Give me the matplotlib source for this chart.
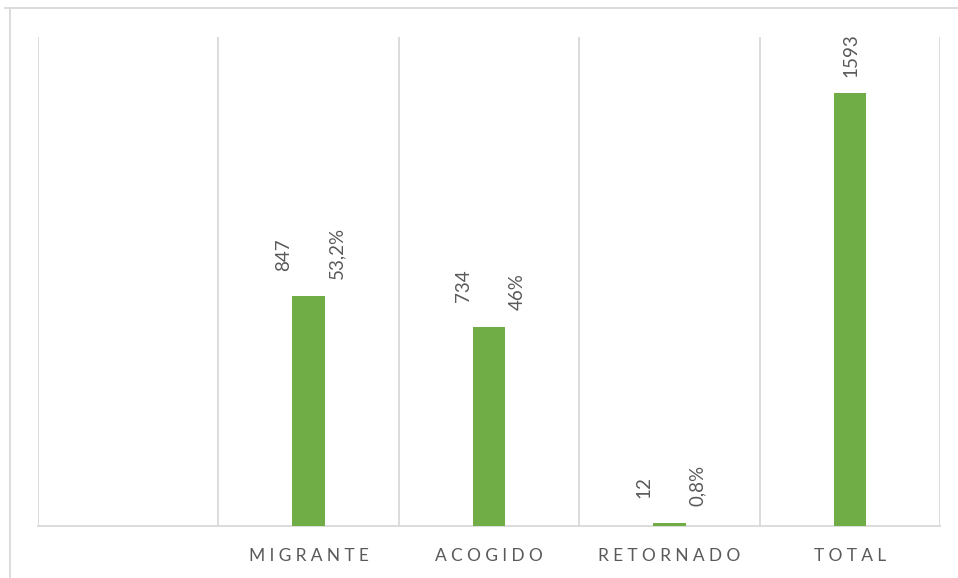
import matplotlib
matplotlib.use("Agg")
from matplotlib import pyplot as plt
from matplotlib.lines import Line2D

# datos
categorias = ["", "MIGRANTE", "ACOGIDO", "RETORNADO", "TOTAL"]
cantidades = [None, 847, 734, 12, 1593]
porcentajes = [None, "53,2%", "46%", "0,8%", None]

verde = "#70AD47"
gris_linea = "#D9D9D9"
gris_texto = "#595959"

plt.rcParams["font.family"] = ["Lato", "DejaVu Sans"]

fig = plt.figure(figsize=(9.58, 5.78), dpi=100)
W, H = 958, 578
ax = fig.add_axes([38 / W, (H - 526) / H, (940 - 38) / W, (526 - 37) / H])

pos = list(range(len(categorias)))
for i, v in enumerate(cantidades):
    if v is None:
        continue
    ax.bar(i, v, width=0.18, color=verde, zorder=3)
    if porcentajes[i] is None:
        # etiqueta centrada (total)
        ax.annotate(str(v), (i, v), xytext=(1, 12), textcoords="offset points",
                    rotation=90, ha="center", va="bottom", fontsize=13.5, color=gris_texto)
    else:
        ax.annotate(str(v), (i, v), xytext=(-18, 18), textcoords="offset points",
                    rotation=90, ha="center", va="bottom", fontsize=13.5, color=gris_texto)
        ax.annotate(porcentajes[i], (i, v), xytext=(20, 12), textcoords="offset points",
                    rotation=90, ha="center", va="bottom", fontsize=13.5, color=gris_texto)

ax.set_xlim(-0.5, len(categorias) - 0.5)
ax.set_ylim(0, 1800)

# lineas verticales entre categorias
for k in range(len(categorias) + 1):
    ax.axvline(k - 0.5, color=gris_linea, lw=1.3, zorder=1)

for s in ["top", "right", "left"]:
    ax.spines[s].set_visible(False)
ax.spines["bottom"].set_color(gris_linea)
ax.spines["bottom"].set_linewidth(1.3)

ax.set_yticks([])
ax.set_xticks(pos)
ax.set_xticklabels(["\u2009\u2009".join(c) for c in categorias], fontsize=12.5, color=gris_texto)
ax.tick_params(axis="x", length=0, pad=16)

# borde del area del grafico
fig.add_artist(Line2D([5 / W, 1], [1 - 8 / H, 1 - 8 / H], color=gris_linea, lw=1.3,
                      transform=fig.transFigure))
fig.add_artist(Line2D([10 / W, 10 / W], [0, 1 - 8 / H], color=gris_linea, lw=1.3,
                      transform=fig.transFigure))

fig.savefig("out.png", dpi=100)
